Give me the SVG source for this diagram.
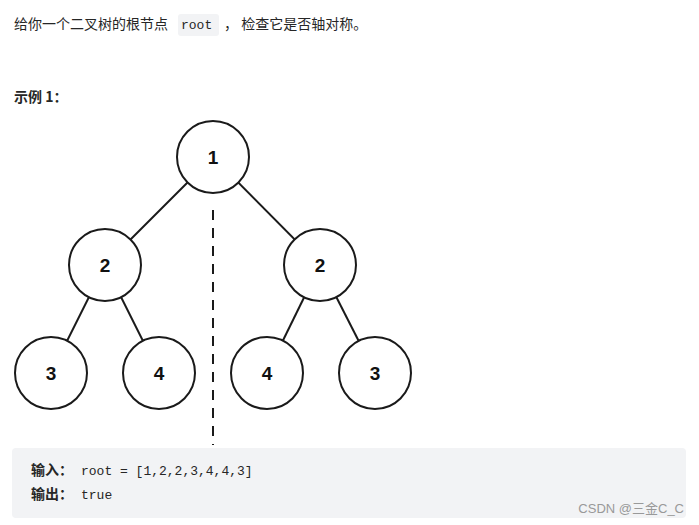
<svg xmlns="http://www.w3.org/2000/svg" width="699" height="525" viewBox="0 0 699 525">
<style>
.t{font-family:"Noto Sans CJK SC","Liberation Sans",sans-serif;font-size:14px;fill:#262626}
.n circle{fill:#fff;stroke:#1a1a1a;stroke-width:2}
.n text{font-family:"Liberation Sans",Arial,sans-serif;font-weight:bold;font-size:19px;text-anchor:middle;fill:#111}
.e line{stroke:#1a1a1a;stroke-width:2}
.m{font-family:"Liberation Mono",monospace;font-size:13px;fill:#262626}
</style>
<rect width="699" height="525" fill="#fff"/>
<text class="t" x="14" y="29">给你一个二叉树的根节点</text>
<rect x="178" y="14" width="41" height="22" rx="3" fill="#f2f3f5"/>
<text class="m" x="181" y="29">root</text>
<text class="t" x="224" y="29">，  检查它是否轴对称。</text>
<text class="t" x="14" y="102" font-weight="bold">示例 1：</text>
<g class="e">
<line x1="213" y1="157" x2="105" y2="265"/><line x1="213" y1="157" x2="320" y2="265"/>
<line x1="105" y1="265" x2="51" y2="373"/><line x1="105" y1="265" x2="159" y2="373"/>
<line x1="320" y1="265" x2="267" y2="373"/><line x1="320" y1="265" x2="375" y2="373"/>
<line x1="213" y1="210" x2="213" y2="445" stroke-width="3" stroke-dasharray="10,8"/>
</g>
<g id="n1" class="n"><circle cx="213" cy="157" r="36"/><text x="213" y="164">1</text></g>
<g id="n2" class="n"><circle cx="105" cy="265" r="36"/><text x="105" y="272">2</text></g>
<g id="n3" class="n"><circle cx="320" cy="265" r="36"/><text x="320" y="272">2</text></g>
<g id="n4" class="n"><circle cx="51" cy="373" r="36"/><text x="51" y="380">3</text></g>
<g id="n5" class="n"><circle cx="159" cy="373" r="36"/><text x="159" y="380">4</text></g>
<g id="n6" class="n"><circle cx="267" cy="373" r="36"/><text x="267" y="380">4</text></g>
<g id="n7" class="n"><circle cx="375" cy="373" r="36"/><text x="375" y="380">3</text></g>
<rect x="12" y="448" width="674" height="70" rx="4" fill="#f2f3f5"/>
<text class="t" x="31" y="475" font-weight="bold">输入：</text>
<text class="m" x="81" y="475">root = [1,2,2,3,4,4,3]</text>
<text class="t" x="31" y="499" font-weight="bold">输出：</text>
<text class="m" x="81" y="499">true</text>
<text x="684" y="513" text-anchor="end" font-family="'Liberation Sans','Noto Sans CJK SC',sans-serif" font-size="13" fill="#999">CSDN @三金C_C</text>
</svg>
